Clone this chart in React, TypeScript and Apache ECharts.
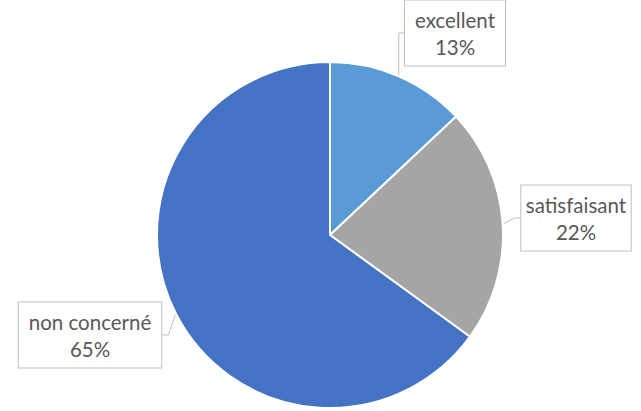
import React, { useEffect, useRef } from "react";
import * as echarts from "echarts";

const categories = ["excellent", "satisfaisant", "non concerné"];
const values = [13, 22, 65];
const colors = ["#5B9BD5", "#A5A5A5", "#4472C4"];
const labelCenters: [number, number][] = [
  [455, 33],
  [576, 218],
  [90, 335],
];

export default function App() {
  const ref = useRef<HTMLDivElement>(null);
  useEffect(() => {
    if (!ref.current) return;
    const chart = echarts.init(ref.current, null, { renderer: "svg" });
    chart.setOption({
      animation: false,
      backgroundColor: "#ffffff",
      series: [
        {
          type: "pie",
          center: [330, 235],
          radius: [0, 173],
          startAngle: 90,
          clockwise: true,
          data: categories.map((c, i) => ({
            name: c,
            value: values[i],
            itemStyle: { color: colors[i] },
          })),
          itemStyle: { borderColor: "#ffffff", borderWidth: 2 },
          label: {
            show: true,
            position: "outside",
            alignTo: "none",
            overflow: "none",
            formatter: "{b}\n{d}%",
            fontFamily: "Lato, 'Open Sans', sans-serif",
            fontSize: 20.5,
            lineHeight: 27,
            color: "#595959",
            align: "center",
            backgroundColor: "#ffffff",
            borderColor: "#BFBFBF",
            borderWidth: 1,
            padding: [6, 10, 5, 10],
          },
          labelLine: {
            show: true,
            length: 8,
            length2: 6,
            lineStyle: { color: "#BFBFBF", width: 1 },
          },
          labelLayout: (params: any) => {
            const c = labelCenters[params.dataIndex];
            return {
              x: c[0],
              y: c[1],
              align: "center",
              verticalAlign: "middle",
            };
          },
        },
      ],
    });
    return () => chart.dispose();
  }, []);
  return <div ref={ref} style={{ width: 641, height: 411, position: "absolute", left: 0, top: 0 }} />;
}
